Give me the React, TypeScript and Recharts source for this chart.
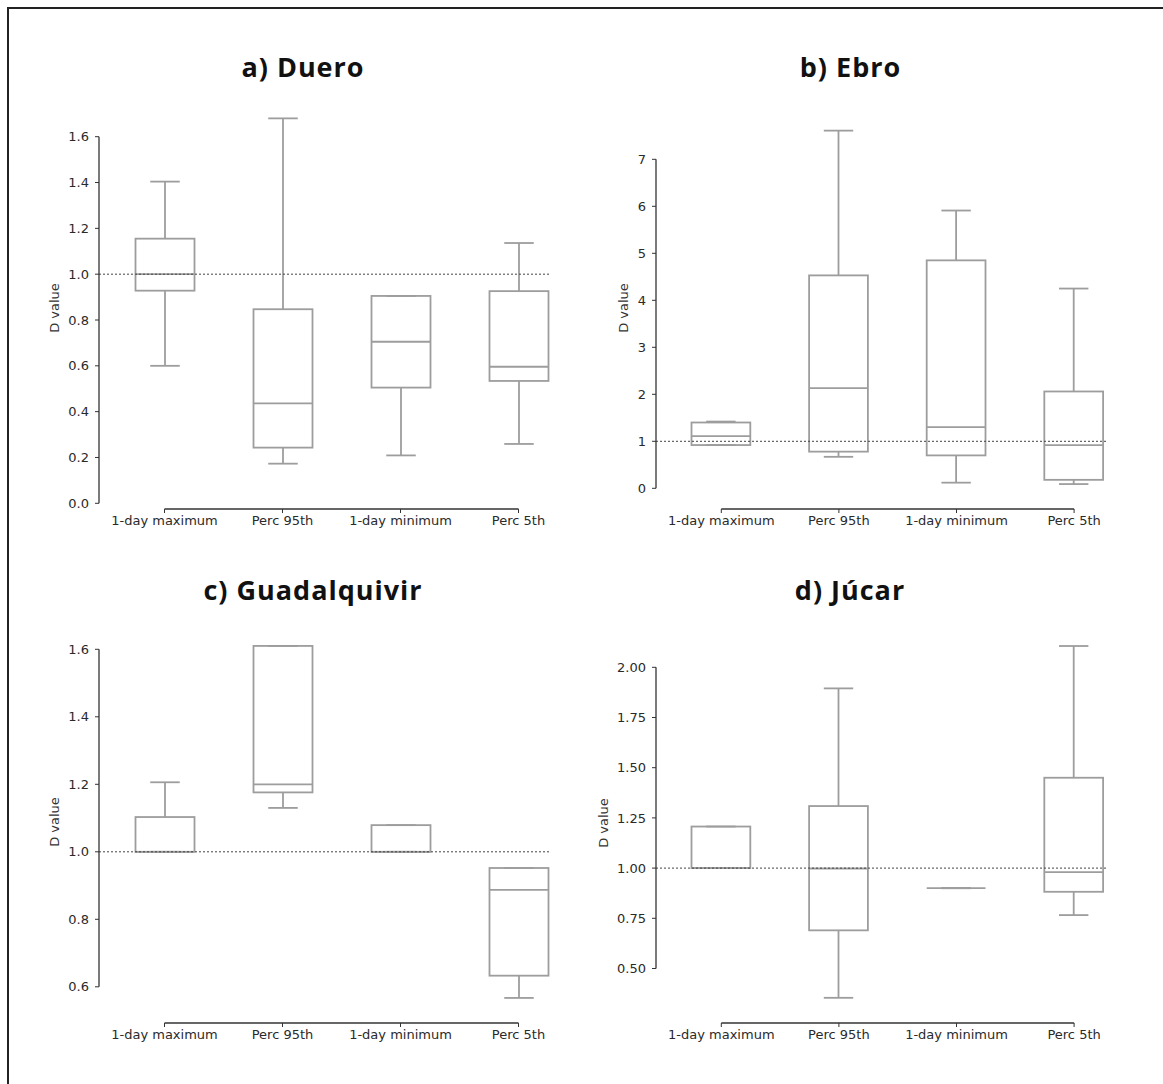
import { ComposedChart, Bar, XAxis, YAxis, ReferenceLine } from "recharts";

const categories = ["1-day maximum", "Perc 95th", "1-day minimum", "Perc 5th"];

// per category: [whisker low, Q1, median, Q3, whisker high]
const dueroBoxes = [
  [0.6, 0.928, 1.0, 1.155, 1.404],
  [0.173, 0.243, 0.436, 0.847, 1.68],
  [0.209, 0.505, 0.705, 0.905, 0.905],
  [0.259, 0.534, 0.596, 0.926, 1.136],
];
const ebroBoxes = [
  [0.92, 0.92, 1.11, 1.4, 1.42],
  [0.67, 0.78, 2.13, 4.53, 7.61],
  [0.12, 0.7, 1.3, 4.85, 5.91],
  [0.09, 0.18, 0.92, 2.06, 4.25],
];
const guadalquivirBoxes = [
  [1.0, 1.0, 1.0, 1.103, 1.206],
  [1.13, 1.176, 1.2, 1.61, 1.61],
  [1.0, 1.0, 1.0, 1.079, 1.079],
  [0.567, 0.633, 0.887, 0.952, 0.952],
];
const jucarBoxes = [
  [1.0, 1.0, 1.0, 1.207, 1.207],
  [0.354, 0.69, 0.998, 1.309, 1.895],
  [0.9, 0.9, 0.9, 0.9, 0.9],
  [0.766, 0.882, 0.98, 1.45, 2.106],
];

const dueroTicks = [0, 0.2, 0.4, 0.6, 0.8, 1.0, 1.2, 1.4, 1.6];
const ebroTicks = [0, 1, 2, 3, 4, 5, 6, 7];
const guadalquivirTicks = [0.6, 0.8, 1.0, 1.2, 1.4, 1.6];
const jucarTicks = [0.5, 0.75, 1.0, 1.25, 1.5, 1.75, 2.0];

const referenceValue = 1;

const BOX_COLOR = "#9d9d9d";
const AXIS_COLOR = "#333";
const tickStyle = { fill: "#2a2a2a", fontSize: 13, fontFamily: "'DejaVu Sans', sans-serif" };

// pixel layout of each panel on the page
const panels = [
  { title: "a) Duero", boxes: dueroBoxes, ticks: dueroTicks, digits: 1,
    left: 99, right: 551, top: 107, bottom: 509, cat0: 164.5, step: 118, loPx: 503.3, hiPx: 136.7,
    titleX: 303, titleY: 77, labelX: 54, labelY: 308 },
  { title: "b) Ebro", boxes: ebroBoxes, ticks: ebroTicks, digits: 0,
    left: 656, right: 1106, top: 107, bottom: 509, cat0: 721.3, step: 117.6, loPx: 488.3, hiPx: 159.3,
    titleX: 850.5, titleY: 77, labelX: 623, labelY: 308 },
  { title: "c) Guadalquivir", boxes: guadalquivirBoxes, ticks: guadalquivirTicks, digits: 1,
    left: 99, right: 551, top: 620, bottom: 1023, cat0: 164.5, step: 118, loPx: 986.8, hiPx: 649.3,
    titleX: 313, titleY: 599.5, labelX: 54, labelY: 822 },
  { title: "d) Júcar", boxes: jucarBoxes, ticks: jucarTicks, digits: 2,
    left: 656, right: 1106, top: 623, bottom: 1023, cat0: 721.3, step: 117.6, loPx: 968.5, hiPx: 667.3,
    titleX: 850, titleY: 599.5, labelX: 603, labelY: 823 },
];

function BoxShape(props: any) {
  const { x, y, width, height, payload } = props;
  const [lo, q1, med, q3, hi] = payload.stats;
  // the bar spans low..high, so the inner stats sit proportionally inside it
  const toPx = (v: number) => (hi === lo ? y : y + ((hi - v) / (hi - lo)) * height);
  const cx = x + width / 2;
  const cap = width / 4;
  return (
    <g stroke={BOX_COLOR} strokeWidth={1.8} fill="none">
      <line x1={cx} x2={cx} y1={toPx(hi)} y2={toPx(q3)} />
      <line x1={cx} x2={cx} y1={toPx(q1)} y2={toPx(lo)} />
      <line x1={cx - cap} x2={cx + cap} y1={toPx(hi)} y2={toPx(hi)} />
      <line x1={cx - cap} x2={cx + cap} y1={toPx(lo)} y2={toPx(lo)} />
      <rect x={x} y={toPx(q3)} width={width} height={toPx(q1) - toPx(q3)} />
      <line x1={x} x2={x + width} y1={toPx(med)} y2={toPx(med)} />
    </g>
  );
}

function Panel({ p }: { p: (typeof panels)[number] }) {
  const AXIS_W = 60;
  const AXIS_H = 40;
  const PAD = 10;
  const lo = p.ticks[0];
  const hi = p.ticks[p.ticks.length - 1];
  const perPx = (hi - lo) / (p.loPx - p.hiPx);
  const yMin = lo - (p.bottom - p.loPx) * perPx;
  const yMax = lo + (p.loPx - p.top) * perPx;
  const xMin = (p.left - p.cat0) / p.step;
  const xMax = (p.right - p.cat0) / p.step;

  const data = categories.map((name, i) => ({
    pos: i,
    name,
    stats: p.boxes[i],
    range: [p.boxes[i][0], p.boxes[i][4]],
  }));

  return (
    <div style={{ position: "absolute", left: p.left - AXIS_W, top: p.top - PAD }}>
      <ComposedChart
        width={p.right - p.left + AXIS_W + PAD}
        height={p.bottom - p.top + PAD + AXIS_H}
        data={data}
        margin={{ top: PAD, right: PAD, bottom: 0, left: 0 }}
      >
        <XAxis
          type="number"
          dataKey="pos"
          domain={[xMin, xMax]}
          allowDataOverflow
          ticks={[0, 1, 2, 3]}
          interval={0}
          tickFormatter={(v: number) => categories[v]}
          axisLine={false}
          tickLine={{ stroke: AXIS_COLOR }}
          tickSize={4}
          tickMargin={3}
          height={AXIS_H}
          tick={tickStyle}
        />
        <YAxis
          type="number"
          domain={[yMin, yMax]}
          allowDataOverflow
          ticks={p.ticks}
          interval={0}
          tickFormatter={(v: number) => v.toFixed(p.digits)}
          axisLine={false}
          tickLine={{ stroke: AXIS_COLOR }}
          tickSize={4}
          tickMargin={6}
          width={AXIS_W}
          tick={tickStyle}
        />
        <Bar
          dataKey="range"
          barSize={p.step * 0.5}
          shape={(s: any) => <BoxShape {...s} />}
          isAnimationActive={false}
        />
        <ReferenceLine y={referenceValue} stroke="#444" strokeWidth={1} strokeDasharray="2 2" ifOverflow="visible" />
        <ReferenceLine
          segment={[{ x: 0, y: yMin }, { x: 3, y: yMin }]}
          stroke={AXIS_COLOR}
          strokeWidth={1.3}
          ifOverflow="visible"
        />
        <ReferenceLine
          segment={[{ x: xMin, y: lo }, { x: xMin, y: hi }]}
          stroke={AXIS_COLOR}
          strokeWidth={1.3}
          ifOverflow="visible"
        />
      </ComposedChart>
    </div>
  );
}

export default function App() {
  return (
    <div style={{ position: "absolute", left: 0, top: 0, width: 1163, height: 1084, background: "#fff", overflow: "hidden" }}>
      <div
        style={{
          position: "absolute",
          left: 7,
          top: 7,
          width: 1200,
          height: 1100,
          borderLeft: "2px solid #222",
          borderTop: "2px solid #222",
        }}
      />
      {panels.map((p) => (
        <Panel key={p.title} p={p} />
      ))}
      <svg width={1163} height={1084} style={{ position: "absolute", left: 0, top: 0, pointerEvents: "none" }}>
        {panels.map((p) => (
          <g key={p.title}>
            <text
              x={p.titleX}
              y={p.titleY}
              textAnchor="middle"
              fontFamily="'Open Sans', sans-serif"
              fontWeight={700}
              fontSize={27}
              letterSpacing={1}
              fill="#111"
            >
              {p.title}
            </text>
            <text
              transform={`translate(${p.labelX},${p.labelY}) rotate(-90)`}
              textAnchor="middle"
              dominantBaseline="central"
              fontFamily="'DejaVu Sans', sans-serif"
              fontSize={13}
              fill="#333"
            >
              D value
            </text>
          </g>
        ))}
      </svg>
    </div>
  );
}
